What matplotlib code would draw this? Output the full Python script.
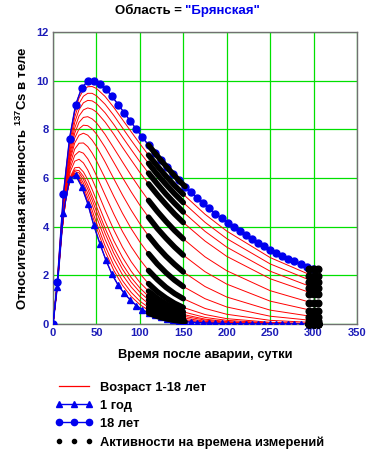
import matplotlib
matplotlib.use("Agg")
import matplotlib.pyplot as plt
from matplotlib.lines import Line2D

plt.rcParams["font.family"] = ["Liberation Sans", "DejaVu Sans"]
plt.rcParams["font.weight"] = "bold"
plt.rcParams["mathtext.fontset"] = "custom"
plt.rcParams["mathtext.bf"] = "Liberation Sans:bold"
plt.rcParams["mathtext.default"] = "bf"

# weekly model points (days after the accident)
weekly_t = [0, 5, 12, 19, 26, 33, 40, 47, 54, 61, 68, 75, 82, 89, 96, 103,
            110, 117, 124, 131, 138, 145, 152, 159, 166, 173, 180, 187, 194,
            201, 208, 215, 222, 229, 236, 243, 250, 257, 264, 271, 278, 285,
            292, 299]

# 1 year old (blue triangles)
age1_vals = [0, 1.53, 4.58, 5.95, 6.12, 5.65, 4.95, 4.05, 3.30, 2.62, 2.04,
             1.60, 1.26, 0.99, 0.76, 0.58, 0.45, 0.35, 0.27, 0.21, 0.16,
             0.125, 0.097, 0.075, 0.058, 0.045, 0.035, 0.027, 0.021, 0.016,
             0.012, 0.0095, 0.0073, 0.0057, 0.0044, 0.0034, 0.0026, 0.002,
             0.0016, 0.0012, 0.0009, 0.0007, 0.0006, 0.0004]

# 18 years old (blue circles)
age18_vals = [0, 1.74, 5.35, 7.62, 9.00, 9.70, 9.98, 10.0, 9.88, 9.65, 9.35,
              9.02, 8.68, 8.34, 8.00, 7.67, 7.35, 7.04, 6.74, 6.45, 6.17,
              5.90, 5.65, 5.41, 5.18, 4.96, 4.75, 4.54, 4.35, 4.16, 3.98,
              3.81, 3.65, 3.49, 3.34, 3.20, 3.06, 2.93, 2.81, 2.69, 2.57,
              2.46, 2.36, 2.26]

# intermediate ages, red curves
red_t = [0, 5, 10, 15, 20, 25, 30, 35, 40, 45, 50, 60, 70, 80, 90, 100, 110,
         120, 130, 140, 150, 175, 200, 250, 300]
red_ages = list(range(2, 18))
red_vals = [
    [0, 1.71, 3.91, 5.33, 6.00, 6.13, 5.93, 5.53, 5.03, 4.49, 3.96, 2.99, 2.20, 1.59, 1.13, 0.80, 0.56, 0.39, 0.27, 0.19, 0.13, 0.05, 0.02, 0.00, 0.00],
    [0, 1.67, 3.85, 5.29, 5.99, 6.17, 6.01, 5.65, 5.19, 4.68, 4.16, 3.21, 2.41, 1.78, 1.30, 0.94, 0.68, 0.49, 0.35, 0.25, 0.18, 0.08, 0.03, 0.01, 0.00],
    [0, 1.63, 3.78, 5.22, 5.97, 6.20, 6.10, 5.79, 5.37, 4.90, 4.41, 3.47, 2.67, 2.02, 1.52, 1.13, 0.83, 0.62, 0.45, 0.33, 0.25, 0.11, 0.05, 0.01, 0.00],
    [0, 1.61, 3.74, 5.21, 5.99, 6.27, 6.21, 5.94, 5.55, 5.10, 4.63, 3.72, 2.91, 2.25, 1.72, 1.31, 0.99, 0.75, 0.56, 0.42, 0.32, 0.16, 0.07, 0.02, 0.01],
    [0, 1.59, 3.72, 5.20, 6.01, 6.33, 6.30, 6.07, 5.71, 5.28, 4.83, 3.93, 3.13, 2.46, 1.91, 1.48, 1.14, 0.87, 0.67, 0.51, 0.39, 0.20, 0.10, 0.03, 0.01],
    [0, 1.58, 3.71, 5.21, 6.06, 6.42, 6.44, 6.25, 5.93, 5.53, 5.10, 4.22, 3.42, 2.74, 2.17, 1.71, 1.35, 1.06, 0.83, 0.65, 0.50, 0.27, 0.15, 0.04, 0.01],
    [0, 1.60, 3.79, 5.35, 6.27, 6.69, 6.77, 6.62, 6.33, 5.95, 5.54, 4.68, 3.87, 3.16, 2.56, 2.07, 1.66, 1.33, 1.07, 0.85, 0.68, 0.39, 0.22, 0.07, 0.02],
    [0, 1.60, 3.81, 5.43, 6.43, 6.93, 7.09, 7.02, 6.79, 6.47, 6.10, 5.30, 4.52, 3.80, 3.18, 2.65, 2.20, 1.83, 1.51, 1.25, 1.04, 0.64, 0.40, 0.15, 0.06],
    [0, 1.60, 3.84, 5.53, 6.60, 7.19, 7.43, 7.44, 7.29, 7.03, 6.71, 5.99, 5.25, 4.55, 3.92, 3.37, 2.89, 2.47, 2.11, 1.80, 1.54, 1.04, 0.70, 0.32, 0.14],
    [0, 1.61, 3.89, 5.63, 6.78, 7.44, 7.76, 7.84, 7.76, 7.56, 7.30, 6.66, 5.97, 5.30, 4.68, 4.12, 3.62, 3.18, 2.79, 2.45, 2.14, 1.54, 1.11, 0.57, 0.30],
    [0, 1.61, 3.91, 5.70, 6.90, 7.64, 8.02, 8.17, 8.15, 8.02, 7.81, 7.26, 6.64, 6.02, 5.43, 4.88, 4.39, 3.93, 3.53, 3.16, 2.83, 2.15, 1.64, 0.94, 0.54],
    [0, 1.63, 3.96, 5.80, 7.05, 7.84, 8.29, 8.49, 8.52, 8.43, 8.27, 7.79, 7.23, 6.66, 6.10, 5.57, 5.08, 4.63, 4.22, 3.84, 3.50, 2.76, 2.19, 1.37, 0.85],
    [0, 1.64, 4.02, 5.91, 7.21, 8.05, 8.55, 8.80, 8.88, 8.83, 8.71, 8.30, 7.80, 7.26, 6.74, 6.23, 5.76, 5.32, 4.91, 4.52, 4.17, 3.41, 2.78, 1.86, 1.24],
    [0, 1.68, 4.11, 6.05, 7.40, 8.28, 8.81, 9.09, 9.19, 9.17, 9.06, 8.68, 8.20, 7.68, 7.17, 6.67, 6.20, 5.76, 5.34, 4.96, 4.60, 3.81, 3.16, 2.17, 1.49],
    [0, 1.71, 4.20, 6.19, 7.59, 8.50, 9.06, 9.36, 9.48, 9.48, 9.38, 9.03, 8.57, 8.06, 7.55, 7.06, 6.60, 6.15, 5.74, 5.35, 4.99, 4.18, 3.51, 2.47, 1.74],
    [0, 1.75, 4.29, 6.33, 7.76, 8.71, 9.29, 9.62, 9.75, 9.76, 9.68, 9.35, 8.90, 8.40, 7.90, 7.41, 6.94, 6.50, 6.08, 5.69, 5.33, 4.51, 3.82, 2.73, 1.96],
]

# measurement windows (days)
meas_start, meas_end = 108, 152
late_meas_t = [295, 300, 305]

x_ticks = [0, 50, 100, 150, 200, 250, 300, 350]
y_ticks = [0, 2, 4, 6, 8, 10, 12]

BLUE = "#0000ee"
TICK_BLUE = "#1c1cb8"
GREEN = "#00e000"

fig = plt.figure(figsize=(3.84, 4.57), dpi=100)
ax = fig.add_axes([53 / 384, 1 - 324 / 457, 304 / 384, 292 / 457])

curves = [(weekly_t, age1_vals)]
curves += [(red_t, v) for v in red_vals]
curves += [(weekly_t, age18_vals)]

for t, v in curves:
    ax.plot(t, v, color="red", lw=0.7, zorder=2)

ax.plot(weekly_t, age1_vals, color=BLUE, lw=1.0, marker="^", ms=4.5,
        zorder=3)
ax.plot(weekly_t, age18_vals, color=BLUE, lw=1.0, marker="o", ms=5.0,
        zorder=3)

for t, v in curves:
    sel_t = [ti for ti in t if meas_start <= ti <= meas_end]
    sel_v = [vi for ti, vi in zip(t, v) if meas_start <= ti <= meas_end]
    ax.plot(sel_t, sel_v, color="black", lw=4.0, solid_capstyle="round",
            zorder=4)
    ax.plot(late_meas_t, [v[-1]] * len(late_meas_t), ls="none", marker="o",
            color="black", ms=4.8, zorder=4, clip_on=False)

ax.set_xlim(0, 350)
ax.set_ylim(0, 12)
ax.set_xticks(x_ticks)
ax.set_yticks(y_ticks)
ax.grid(True, color=GREEN, lw=0.9)
ax.set_axisbelow(True)
ax.tick_params(length=0, pad=3, labelsize=8, labelcolor=TICK_BLUE)
for lab in ax.get_xticklabels() + ax.get_yticklabels():
    lab.set_fontweight("bold")
for s in ax.spines.values():
    s.set_color("#707070")
    s.set_linewidth(1.0)

ax.set_xlabel("Время после аварии, сутки", fontsize=9.3, fontweight="bold",
              labelpad=8)
ax.set_ylabel("Относительная активность $^{137}$Cs в теле", fontsize=9.5,
              fontweight="bold", labelpad=5)

fig.text(0.474, 0.975, "Область =", ha="right", va="center", fontsize=9.5,
         fontweight="bold")
fig.text(0.482, 0.975, "\"Брянская\"", ha="left", va="center", fontsize=9.5,
         fontweight="bold", color=BLUE)

handles = [
    Line2D([], [], color="red", lw=0.9),
    Line2D([], [], color=BLUE, lw=1.0, marker="^", ms=4),
    Line2D([], [], color=BLUE, lw=1.0, marker="o", ms=4.5),
    Line2D([], [], ls="none", marker="o", color="black", ms=3),
]
labels = ["Возраст 1-18 лет", "1 год", "18 лет",
          "Активности на времена измерений"]
fig.legend(handles, labels, loc="upper left", bbox_to_anchor=(0.13, 0.176),
           frameon=False, numpoints=3, handlelength=2.95, handletextpad=0.55,
           labelspacing=0.47, borderaxespad=0,
           prop={"size": 9.3, "weight": "bold"})

fig.savefig("out.png", dpi=100)
